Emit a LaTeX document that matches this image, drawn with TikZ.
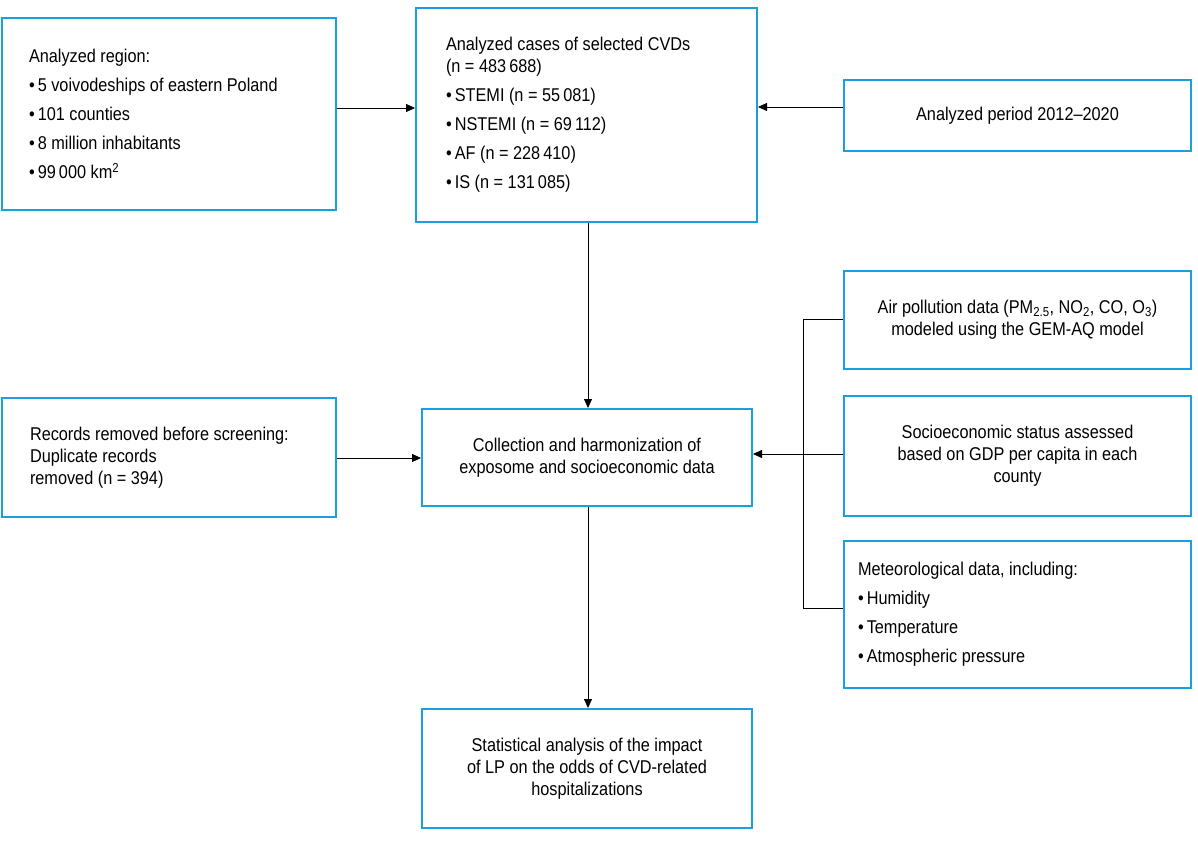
\documentclass[tikz,border=0pt]{standalone}
\usepackage{fontspec}
\setmainfont{Liberation Sans}[FakeStretch=0.88]
\usetikzlibrary{arrows.meta}
\definecolor{bx}{HTML}{1AA0E0}
\newcommand{\bul}{\textbullet\,}
\begin{document}
\begin{tikzpicture}[x=1pt,y=-1pt,
  box/.style={draw=bx,line width=2pt,rectangle,inner sep=0pt,font=\fontsize{18.5}{22}\selectfont},
  lbox/.style={box,align=flush left},
  cbox/.style={box,align=center},
  arr/.style={-{Triangle[length=9pt,width=8pt]},line width=0.8pt}]
\useasboundingbox (0,0) rectangle (1198,850);
\node[lbox,minimum width=334,minimum height=192,text width=280] (A) at (169,114) {Analyzed region:\\[7pt]\bul 5 voivodeships of eastern Poland\\[7pt]\bul 101 counties\\[7pt]\bul 8 million inhabitants\\[7pt]\bul 99\,000 km\textsuperscript{2}};
\node[lbox,minimum width=341,minimum height=214,text width=281] (B) at (586.5,115) {Analyzed cases of selected CVDs\\(n = 483\,688)\\[7pt]\bul STEMI (n = 55\,081)\\[7pt]\bul NSTEMI (n = 69\,112)\\[7pt]\bul AF (n = 228\,410)\\[7pt]\bul IS (n = 131\,085)};
\node[cbox,minimum width=347,minimum height=71] (C) at (1017.5,115.5) {Analyzed period 2012--2020};
\node[cbox,minimum width=347,minimum height=98] (D) at (1017.5,320) {Air pollution data (PM\textsubscript{2.5}, NO\textsubscript{2}, CO, O\textsubscript{3})\\modeled using the GEM-AQ model};
\node[cbox,minimum width=347,minimum height=120] (E) at (1017.5,456) {Socioeconomic status assessed\\based on GDP per capita in each\\county};
\node[lbox,minimum width=347,minimum height=147,text width=319] (F) at (1017.5,614.5) {Meteorological data, including:\\[7pt]\bul Humidity\\[7pt]\bul Temperature\\[7pt]\bul Atmospheric pressure};
\node[lbox,minimum width=334,minimum height=119,text width=278] (G) at (169,457.5) {Records removed before screening:\\Duplicate records\\removed (n = 394)};
\node[cbox,minimum width=330,minimum height=97] (H) at (587,457.5) {Collection and harmonization of\\exposome and socioeconomic data};
\node[cbox,minimum width=330,minimum height=119] (I) at (587,768.5) {Statistical analysis of the impact\\of LP on the odds of CVD-related\\hospitalizations};
\coordinate (t1) at (803,319);
\coordinate (t2) at (803,608);
\draw[arr] (A.east |- 0,108) -- (B.west |- 0,108);
\draw[arr] (C.west |- 0,107) -- (B.east |- 0,107);
\draw[arr] (B.south -| 588,0) -- (H.north -| 588,0);
\draw[arr] (G.east |- 0,458) -- (H.west |- 0,458);
\draw[arr] (H.south -| 588,0) -- (I.north -| 588,0);
\draw[line width=0.8pt] (D.west |- t1) -- (t1) -- (t2) -- (F.west |- t2);
\draw[arr] (E.west |- 0,454) -- (H.east |- 0,454);
\end{tikzpicture}
\end{document}
